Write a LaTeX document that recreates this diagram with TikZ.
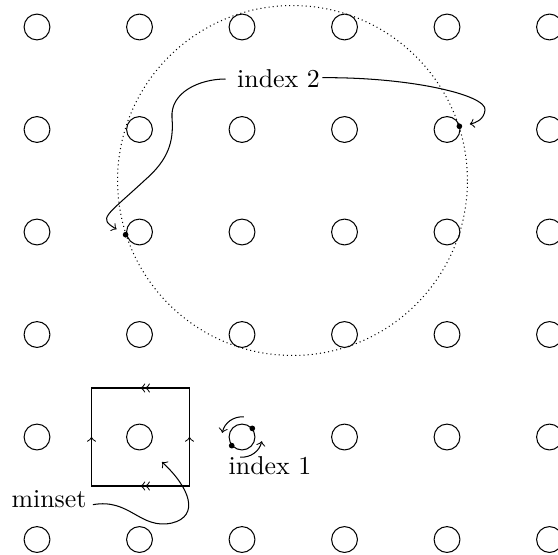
\documentclass[tikz,border=0pt]{standalone}
\usetikzlibrary{decorations.markings}
\begin{document}
\begin{tikzpicture}[x=0.013592cm, y=-0.013592cm,
  site/.style={draw, circle, minimum size=10pt, inner sep=0pt},
  dotpt/.style={fill, circle, minimum size=2.2pt, inner sep=0pt},
  lbl/.style={inner sep=3.33pt},
  conn/.style={->, shorten >=2.8pt},
  edgetwo/.style={line cap=rect, postaction={decorate}, decoration={markings, mark=at position 0.5 with {\arrow{>>}}}},
  edgeone/.style={line cap=rect, postaction={decorate}, decoration={markings, mark=at position 0.5 with {\arrow{>}}}},
]
\useasboundingbox (0,0) rectangle (558,554);
% grid of sites
\foreach \i in {0,...,5}{\foreach \j in {0,...,5}{
  \node[site] (s\i\j) at ({37+102.5*\i},{27+102.5*\j}) {};}}
% big dotted circle
\node[draw, circle, dash pattern=on 0.4pt off 1.2pt, minimum size=4.757cm, inner sep=0pt] (big) at (292.5,180.5) {};
\node[dotpt] (d1) at (big.18.9) {};
\node[dotpt] (d2) at (big.198.9) {};
% labels
\node[lbl] (i2) at (278.5,79) {index 2};
\node[lbl] (i1) at (270,466) {index 1};
\node[lbl] (ms) at (49,499.5) {minset};
% index 2 connectors
\draw[conn] ([xshift=-1pt]i2.west) .. controls (200,79) and (170,92) .. (172,118)
  .. controls (174,142) and (168,160) .. (145,180)
  .. controls (105,217) and (98,218) .. (d2);
\draw[conn] ([xshift=-2.5pt,yshift=0.5pt]i2.east) .. controls (410,77) and (487,95) .. (485,110)
  .. controls (484,120) and (475,123) .. (d1);
% index 1 marks
\node[dotpt] (e1) at (s24.40) {};
\node[dotpt] (e2) at (s24.220) {};
\draw[->] ([shift={(85:7.8pt)}]s24.center) arc[start angle=85, end angle=168, radius=7.8pt];
\draw[->] ([shift={(-95:7.8pt)}]s24.center) arc[start angle=-95, end angle=-12, radius=7.8pt];
% minset square
\coordinate (q1) at (91.5,388);
\coordinate (q2) at (189.5,388);
\coordinate (q3) at (189.5,486);
\coordinate (q4) at (91.5,486);
\draw[edgetwo] (q2) -- (q1);
\draw[edgetwo] (q3) -- (q4);
\draw[edgeone] (q4) -- (q1);
\draw[edgeone] (q3) -- (q2);
\coordinate (mtip) at (162,462);
\draw[->] ([xshift=-1pt,yshift=-2pt]ms.east) .. controls (130,498) and (140,530) .. (172,523)
  .. controls (200,516) and (190,488) .. (mtip);
\end{tikzpicture}
\end{document}
